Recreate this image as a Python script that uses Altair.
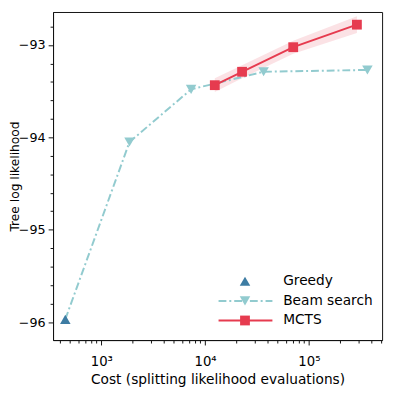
import altair as alt
import pandas as pd

# ---- data ----
greedy_cost = [450]
greedy_ll = [-95.97]

beam_cost = [450, 1870, 7330, 36600, 366000]
beam_ll = [-95.97, -94.05, -93.48, -93.29, -93.27]

mcts_cost = [12400, 22700, 70600, 290000]
mcts_ll = [-93.435, -93.29, -93.024, -92.78]
mcts_err = [0.075, 0.07, 0.07, 0.09]

x_major = [1000, 10000, 100000]
x_major_labels = ["10³", "10⁴", "10⁵"]
x_minor = [400, 500, 600, 700, 800, 900,
           2000, 3000, 4000, 5000, 6000, 7000, 8000, 9000,
           20000, 30000, 40000, 50000, 60000, 70000, 80000, 90000,
           200000, 300000, 400000, 500000]
y_major = [-96, -95, -94, -93]
y_minor = [-95.8, -95.6, -95.4, -95.2, -94.8, -94.6, -94.4, -94.2,
           -93.8, -93.6, -93.4, -93.2, -92.8]

legend_labels = ["Greedy", "Beam search", "MCTS"]

C_GREEDY = "#3d7ca3"
C_BEAM = "#92cbcf"
C_MCTS = "#e63b4f"

PLOT_W, PLOT_H = 336, 335
PAD_LEFT = 46

greedy_df = pd.DataFrame({"cost": greedy_cost, "ll": greedy_ll})
beam_df = pd.DataFrame({"cost": beam_cost, "ll": beam_ll})
mcts_df = pd.DataFrame({"cost": mcts_cost, "ll": mcts_ll,
                        "lo": [m - e for m, e in zip(mcts_ll, mcts_err)],
                        "hi": [m + e for m, e in zip(mcts_ll, mcts_err)]})

x_label_expr = " : ".join(
    [f"datum.value === {v} ? '{l}'" for v, l in zip(x_major, x_major_labels)]
) + " : ''"
x_major_test = " || ".join([f"datum.value === {v}" for v in x_major])

x_axis = alt.Axis(
    values=sorted(x_major + x_minor),
    labelExpr=x_label_expr,
    tickSize={"condition": {"test": x_major_test, "value": 5}, "value": 3},
    title="Cost (splitting likelihood evaluations)",
    labelFontSize=13.5,
    labelPadding=10,
    titleFontSize=14,
    titleY=44,
    titleBaseline="alphabetic",
)
y_axis = alt.Axis(
    values=sorted(y_major + y_minor),
    labelExpr="datum.value % 1 === 0 ? replace(format(datum.value, 'd'), '-', '−') : ''",
    tickSize={"condition": {"test": "datum.value % 1 === 0", "value": 5}, "value": 3},
    title="Tree log likelihood",
    labelFontSize=13,
    labelPadding=3,
    titleFontSize=12.5,
    titleX=-(PAD_LEFT - 0.5),
    titleBaseline="top",
)

x_scale = alt.Scale(type="log", domain=[343, 507000], nice=False)
y_scale = alt.Scale(domain=[-96.194, -92.643], nice=False, zero=False)


def X(field="cost"):
    return alt.X(f"{field}:Q", scale=x_scale, axis=x_axis)


def Y(field="ll"):
    return alt.Y(f"{field}:Q", scale=y_scale, axis=y_axis)


band = alt.Chart(mcts_df).mark_area(color=C_MCTS, opacity=0.15).encode(
    x=X(), y=Y("lo"), y2="hi:Q")

beam_line = alt.Chart(beam_df).mark_line(
    color=C_BEAM, strokeWidth=2, strokeDash=[8, 3, 2, 3]).encode(x=X(), y=Y())
beam_pts = alt.Chart(beam_df.iloc[1:]).mark_point(
    shape="triangle-down", filled=True, opacity=1, size=115, color=C_BEAM).encode(x=X(), y=Y())

mcts_line = alt.Chart(mcts_df).mark_line(color=C_MCTS, strokeWidth=2).encode(x=X(), y=Y())
mcts_pts = alt.Chart(mcts_df).mark_point(
    shape="square", filled=True, opacity=1, size=100, color=C_MCTS).encode(x=X(), y=Y())

greedy_pts = alt.Chart(greedy_df).mark_point(
    shape="triangle-up", filled=True, opacity=1, size=115, color=C_GREEDY).encode(x=X(), y=Y())

# ---- legend (inside, lower right) ----
leg_y = [275, 295, 315]
LX0, LX1, LXM, LXT = 169, 224, 196, 235
one = pd.DataFrame({"k": [0]})
leg_line_beam = alt.Chart(one).mark_rule(
    color=C_BEAM, strokeWidth=2, strokeDash=[8, 3, 2, 3]).encode(
    x=alt.value(LX0), x2=alt.value(LX1), y=alt.value(leg_y[1]))
leg_line_mcts = alt.Chart(one).mark_rule(
    color=C_MCTS, strokeWidth=2).encode(
    x=alt.value(LX0), x2=alt.value(LX1), y=alt.value(leg_y[2]))
leg_greedy = alt.Chart(one).mark_point(
    shape="triangle-up", filled=True, opacity=1, size=115, color=C_GREEDY).encode(
    x=alt.value(LXM), y=alt.value(leg_y[0]))
leg_beam = alt.Chart(one).mark_point(
    shape="triangle-down", filled=True, opacity=1, size=115, color=C_BEAM).encode(
    x=alt.value(LXM), y=alt.value(leg_y[1]))
leg_mcts = alt.Chart(one).mark_point(
    shape="square", filled=True, opacity=1, size=100, color=C_MCTS).encode(
    x=alt.value(LXM), y=alt.value(leg_y[2]))
leg_text = alt.Chart(pd.DataFrame({"label": legend_labels, "ypx": leg_y})).mark_text(
    align="left", baseline="middle", fontSize=14, color="black").encode(
    x=alt.value(LXT), y=alt.Y("ypx:Q", scale=None), text="label:N")

chart = alt.layer(
    band, beam_line, beam_pts, mcts_line, mcts_pts, greedy_pts,
    leg_line_beam, leg_line_mcts, leg_greedy, leg_beam, leg_mcts, leg_text,
).properties(
    width=PLOT_W, height=PLOT_H,
    autosize=alt.AutoSizeParams(type="none"),
    padding={"left": PAD_LEFT, "top": 0, "right": 5, "bottom": 52},
).configure_view(
    stroke="#111", strokeWidth=1,
).configure_axis(
    grid=False,
    labelFont="DejaVu Sans", titleFont="DejaVu Sans",
    labelColor="black", titleColor="black",
    titleFontWeight="normal",
    tickColor="#111", domainColor="#111",
).configure_text(font="DejaVu Sans")

chart.save("out.html", embed_options={"renderer": "svg", "actions": False})
